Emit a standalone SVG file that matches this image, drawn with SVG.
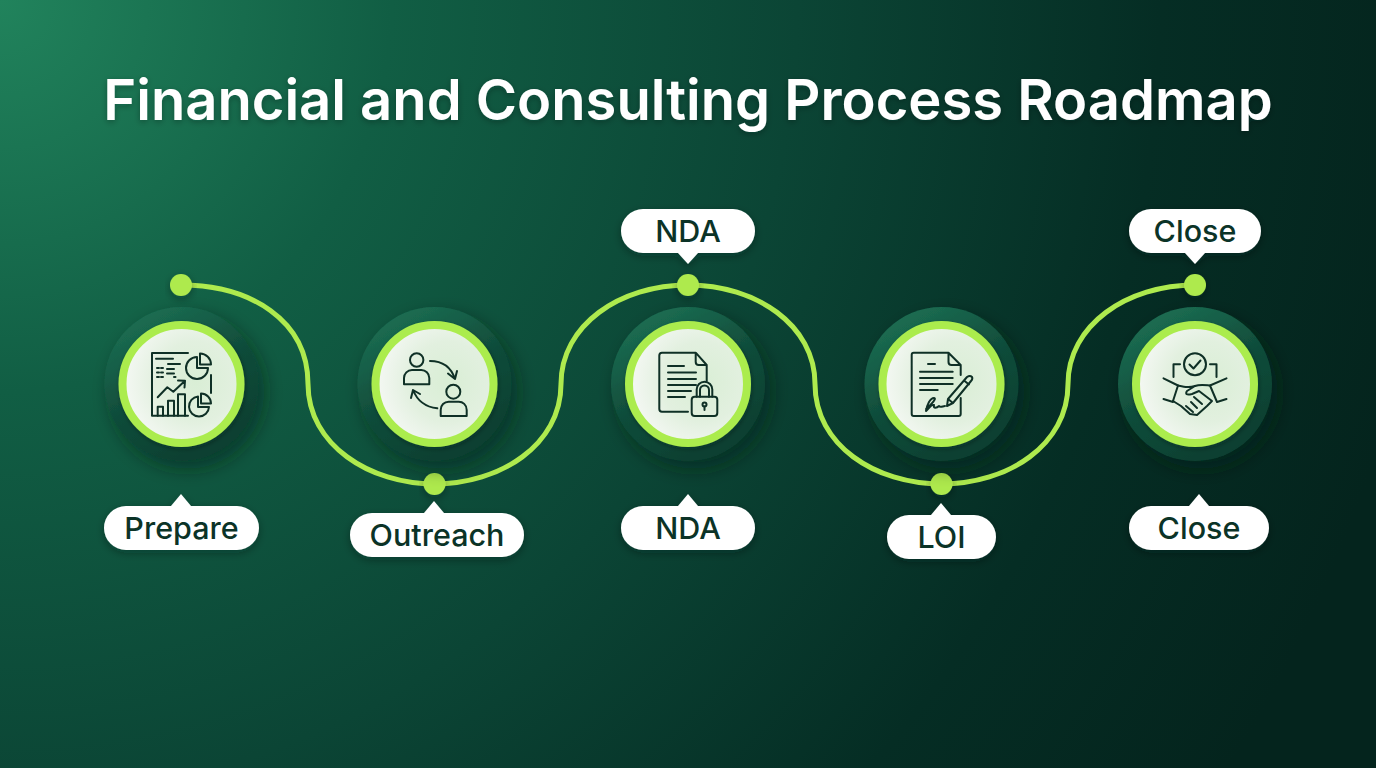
<svg xmlns="http://www.w3.org/2000/svg" width="1376" height="768" viewBox="0 0 1376 768">
<style>
.t{font-family:Inter,"Liberation Sans",sans-serif}
.title{font-size:56.100px;font-weight:600;fill:#fff;text-anchor:middle;filter:url(#st)}
.lab{font-size:30.500px;font-weight:500;fill:#0b3327;text-anchor:middle}
.bub{fill:#fff;filter:url(#sb)}
.dot{fill:#aeea4e;filter:url(#sb)}
.ic{fill:none;stroke:#0f3026;stroke-width:2;stroke-linecap:round;stroke-linejoin:round}
.outer{filter:url(#so)}
.ring{fill:url(#gi);stroke:#abec4e;stroke-width:8;filter:url(#sr)}
</style>
<defs>
<radialGradient id="bg" gradientUnits="userSpaceOnUse" cx="0" cy="0" r="1450">
<stop offset="0" stop-color="#21835c"/><stop offset=".27" stop-color="#115e44"/><stop offset=".55" stop-color="#0b4535"/><stop offset=".8" stop-color="#052d24"/><stop offset="1" stop-color="#04241d"/>
</radialGradient>
<linearGradient id="go" x1=".2" y1="0" x2=".75" y2="1"><stop offset="0" stop-color="#1d7155"/><stop offset=".5" stop-color="#104c3a"/><stop offset="1" stop-color="#0a3d2f"/></linearGradient>
<radialGradient id="gi" cx=".62" cy=".48" r=".62"><stop offset="0" stop-color="#d9eed5"/><stop offset=".55" stop-color="#e2f0df"/><stop offset="1" stop-color="#f5f8f4"/></radialGradient>
<filter id="so" x="-30%" y="-30%" width="170%" height="170%"><feDropShadow dx="6" dy="8" stdDeviation="9" flood-color="#021a14" flood-opacity=".5"/></filter>
<filter id="sr" x="-10%" y="-10%" width="120%" height="120%"><feDropShadow dx="1" dy="2" stdDeviation="2" flood-color="#021a14" flood-opacity=".35"/></filter>
<filter id="sb" x="-20%" y="-30%" width="140%" height="170%"><feDropShadow dx="0" dy="3" stdDeviation="4" flood-color="#021a14" flood-opacity=".35"/></filter>
<filter id="st" x="-5%" y="-20%" width="110%" height="150%"><feDropShadow dx="0" dy="2" stdDeviation="3" flood-color="#021a14" flood-opacity=".3"/></filter>
</defs>
<rect width="1376" height="768" fill="url(#bg)"/>
<text class="t title" x="688" y="120">Financial and Consulting Process Roadmap</text>
<g id="connectors">
<path d="M181 285C250 285 308 320 308 384C308 445 370 484 434.500 484C500 484 561 445 561 384C561 325 620 285 688 285C756 285 815 325 815 384C815 445 875 484 941.500 484C1008 484 1068 445 1068 384C1068 325 1127 285 1195 285" fill="none" stroke="#aeea4e" stroke-width="5"/>
<circle class="dot" cx="181" cy="285" r="11"/>
<circle class="dot" cx="434.500" cy="484" r="11"/>
<circle class="dot" cx="688" cy="285" r="11"/>
<circle class="dot" cx="941.500" cy="484" r="11"/>
<circle class="dot" cx="1195" cy="285" r="11"/>
</g>
<g id="node-prepare">
<circle class="outer" cx="181.500" cy="384" r="77" fill="url(#go)"/>
<circle class="ring" cx="181.500" cy="384" r="59"/>
<g class="ic">
<path d="M188 353H152V415.700H188M156 358.700H173M168 364H180M167 369H174M167 373.500H174M157 368h2M161 368h2M157 372.500h2M161 372.500h2M157 377h2M161 377h2M174 377h1.500M211 375V393"/>
<path d="M157.700 397.300L167.300 387.300L173.300 391.700L185 380.700M178 380.500L185 380.700L184.500 387.500"/>
<path d="M157.700 415.700V406.700H163V415.700M168 415.700V400.700H174V415.700M178 415.700V394.300H185V415.700"/>
<path d="M197 357A11 11 0 1 0 208 368H197ZM200 353.500A11 11 0 0 1 211 364.500H200Z"/>
<path d="M198 396.500A10 10 0 1 0 209 407H198ZM201 393.500A10 10 0 0 1 211 403.500H201Z"/>
</g>
</g>
<g id="node-outreach">
<circle class="outer" cx="434.500" cy="384" r="77" fill="url(#go)"/>
<circle class="ring" cx="434.500" cy="384" r="59"/>
<g class="ic">
<circle cx="416.700" cy="360" r="6.700"/>
<path d="M404 384.300V378A8 8 0 0 1 412 370H421A8 8 0 0 1 429.300 378V384.300Z"/>
<circle cx="453.300" cy="391.700" r="7"/>
<path d="M440.700 416V410A8 8 0 0 1 449 401.700H458A8 8 0 0 1 466.700 410V416Z"/>
<path d="M430 361C442 361 451 367 455 379M448 373.500L455 379L457 371"/>
<path d="M437.300 408.300C425 407 417 400 413 390M411 398L413 390L420 394"/>
</g>
</g>
<g id="node-nda">
<circle class="outer" cx="688" cy="384" r="77" fill="url(#go)"/>
<circle class="ring" cx="688" cy="384" r="59"/>
<g class="ic">
<path d="M688 411.700H662Q659.300 411.700 659.300 409V355.500Q659.300 352.700 662 352.700H695.700L706.700 365V381M695.700 352.700V362Q695.700 365 698.700 365H706.700"/>
<path d="M668 366H684M668 372.500H696M668 379H696M668 385H696M668 391H691M668 397H685"/>
<rect x="691.700" y="396.700" width="25.600" height="19.300" rx="3"/>
<path d="M696.700 396.700V389.500A7.800 7.800 0 0 1 712.300 389.500V396.700M700 396.700V390A4.500 4.500 0 0 1 709 390V396.700"/>
<circle cx="704.500" cy="404.500" r="2"/><path d="M704.500 406.500V410"/>
</g>
</g>
<g id="node-loi">
<circle class="outer" cx="941.500" cy="384" r="77" fill="url(#go)"/>
<circle class="ring" cx="941.500" cy="384" r="59"/>
<g class="ic">
<path d="M960.700 398V414Q960.700 416 958.700 416H913.700Q911.700 416 911.700 414V354.700Q911.700 352.700 913.700 352.700H948.500L960.700 365V375M948.500 352.700V362Q948.500 365 951.500 365H960.700"/>
<path d="M928 364H935M920 371.700H952.700M920 378H952.700M920 384H952.700M920 390H937.700"/>
<path d="M926 409C932 404 937 398 934 398C930 398 927 405 926 411C930 407 932 404 934 405C933 409 937 408 939 406C940 408 943 406 945 406"/>
<path d="M947 406L948 399L967 377Q970 375 972 377Q973 379 971 381L953 403ZM948 399L953 403M964 380.500L969 384.500"/>
</g>
</g>
<g id="node-close">
<circle class="outer" cx="1195" cy="384" r="77" fill="url(#go)"/>
<circle class="ring" cx="1195" cy="384" r="59"/>
<g class="ic">
<circle cx="1195" cy="364.300" r="11"/>
<path d="M1189.500 364.500L1193.500 368.500L1200.500 360.500"/>
<path d="M1173.500 377V364.300H1180M1216.500 377V364.300H1210"/>
<path d="M1163.500 378.300L1178 385.500L1173 401M1163.500 399L1173 402M1226.500 378.300L1210 385.500L1217 402M1226.500 399L1217 402"/>
<path d="M1178 385.500C1185 387 1189 388 1195 386L1187 391Q1184 396 1192 394L1199 391L1212 401L1207 406L1197 415L1190 414L1181 406L1173 401"/>
<path d="M1195 386C1200 384 1205 385 1210 385.500M1202 404L1194 397M1197 408L1191 402M1193 412L1186 406"/>
</g>
</g>
<g id="label-prepare"><path class="bub" d="M126 506H171L181 494L191 506H237A22 22 0 0 1 237 550H126A22 22 0 0 1 126 506Z"/><text class="t lab" x="181.500" y="539">Prepare</text></g>
<g id="label-outreach"><path class="bub" d="M372 513H424L434 501L444 513H502A22 22 0 0 1 502 557H372A22 22 0 0 1 372 513Z"/><text class="t lab" x="437" y="546">Outreach</text></g>
<g id="label-nda-top"><path class="bub" d="M643 209H733A22 22 0 0 1 733 253H698L688 264L678 253H643A22 22 0 0 1 643 209Z"/><text class="t lab" x="688" y="242">NDA</text></g>
<g id="label-nda-bottom"><path class="bub" d="M643 506H678L688 494L698 506H733A22 22 0 0 1 733 550H643A22 22 0 0 1 643 506Z"/><text class="t lab" x="688" y="539">NDA</text></g>
<g id="label-loi"><path class="bub" d="M909 515H931L941 503L951 515H974A22 22 0 0 1 974 559H909A22 22 0 0 1 909 515Z"/><text class="t lab" x="941.500" y="548">LOI</text></g>
<g id="label-close-top"><path class="bub" d="M1151 209H1239A22 22 0 0 1 1239 253H1205L1195 264L1185 253H1151A22 22 0 0 1 1151 209Z"/><text class="t lab" x="1195" y="242">Close</text></g>
<g id="label-close-bottom"><path class="bub" d="M1151 506H1189L1199 494L1209 506H1247A22 22 0 0 1 1247 550H1151A22 22 0 0 1 1151 506Z"/><text class="t lab" x="1199" y="539">Close</text></g>
</svg>
